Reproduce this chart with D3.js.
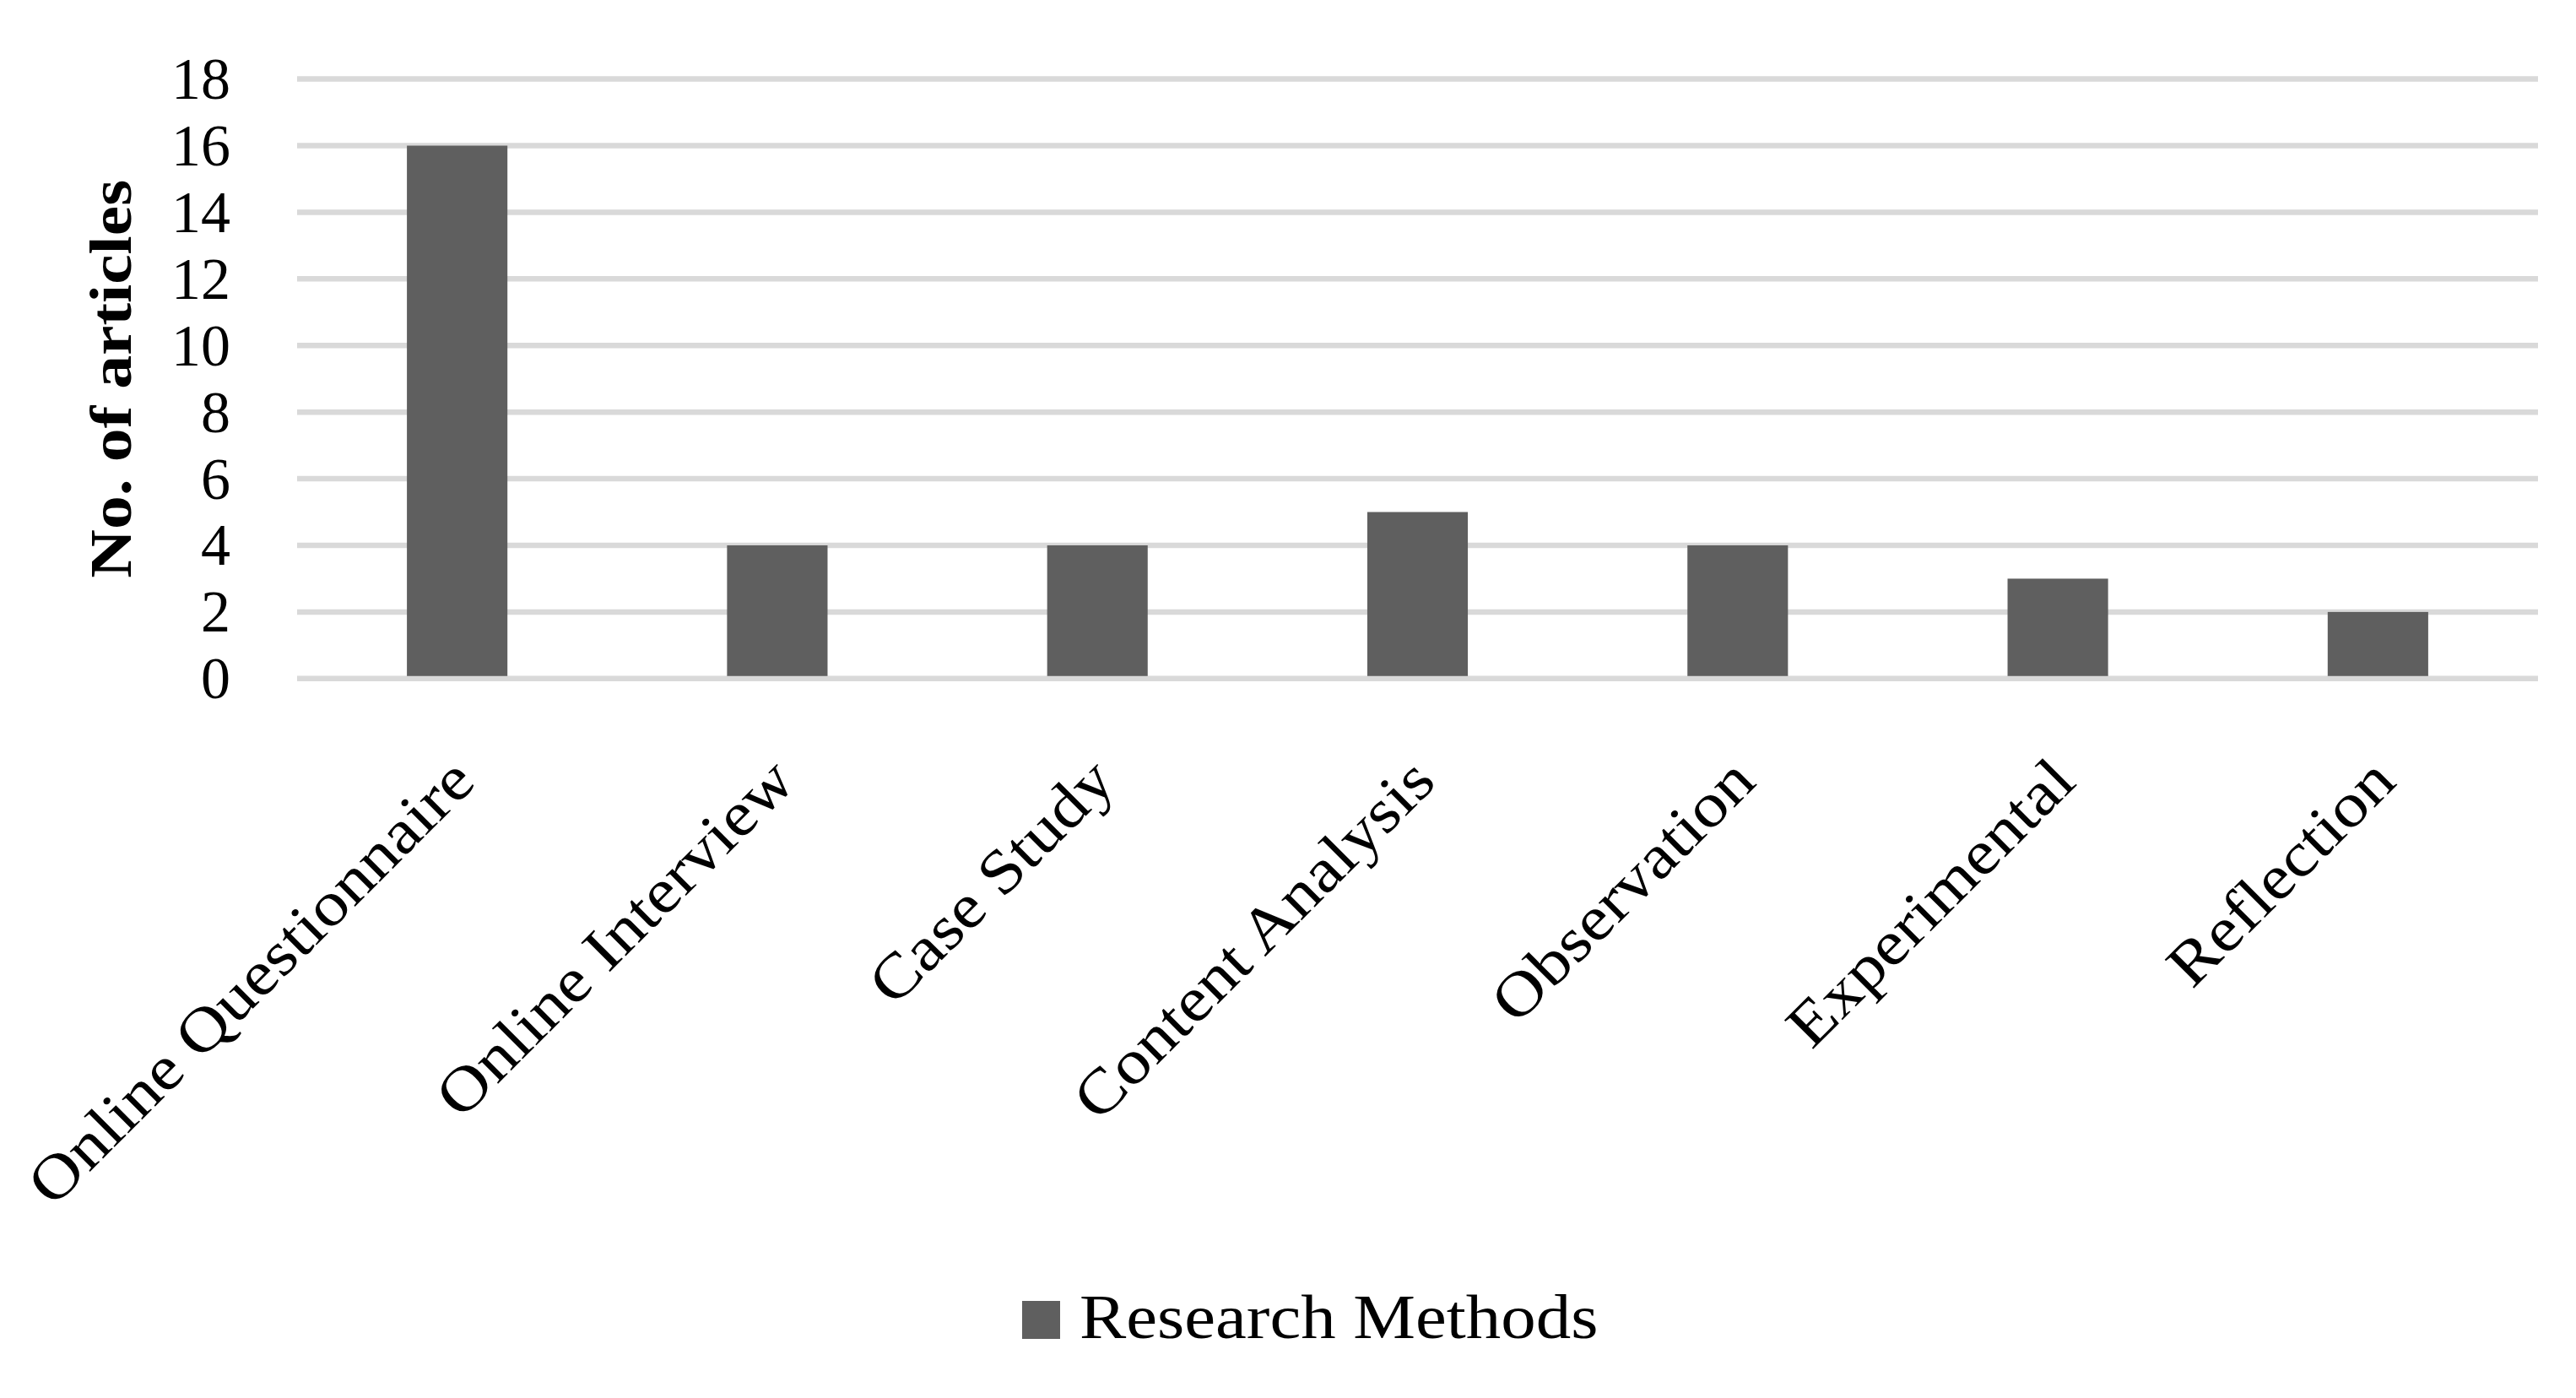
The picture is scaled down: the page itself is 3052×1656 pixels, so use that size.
<!DOCTYPE html>
<html>
<head>
<meta charset="utf-8">
<script src="https://cdn.jsdelivr.net/npm/d3@7"></script>
<style>
  html, body { margin: 0; padding: 0; background: #ffffff; }
  svg { display: block; }
  text { font-family: "Liberation Serif", "Times New Roman", serif; fill: #000; }
</style>
</head>
<body>
<script>
// ---- data ----
const categories = ["Online Questionnaire", "Online Interview", "Case Study", "Content Analysis", "Observation", "Experimental", "Reflection"];
const values = [16, 4, 4, 5, 4, 3, 2];
const yTicks = [0, 2, 4, 6, 8, 10, 12, 14, 16, 18];
const seriesName = "Research Methods";
const yTitle = "No. of articles";

// ---- layout ----
const W = 3052, H = 1656;
const plot = { left: 352, right: 3007, top: 93.6, bottom: 803.8 };
const barColor = "#5f5f5f", gridColor = "#d9d9d9";
const labelSize = 74, textScale = 1.12;

const svg = d3.select("body").append("svg").attr("width", W).attr("height", H);
svg.append("rect").attr("width", W).attr("height", H).attr("fill", "#fff");

const x = d3.scaleBand().domain(categories).range([plot.left, plot.right])
  .paddingInner(0.686).paddingOuter(0.343);
const y = d3.scaleLinear().domain([0, 18]).range([plot.bottom, plot.top]);

// gridlines
svg.append("g").selectAll("line").data(yTicks).join("line")
  .attr("x1", plot.left).attr("x2", plot.right)
  .attr("y1", d => y(d)).attr("y2", d => y(d))
  .attr("stroke", gridColor).attr("stroke-width", 6.5);

// y tick labels via axis
const yAxis = d3.axisLeft(y).tickValues(yTicks).tickSize(0).tickPadding(0);
const gy = svg.append("g").attr("transform", `translate(${273},0)`).call(yAxis);
gy.select(".domain").remove();
gy.selectAll("text")
  .attr("font-family", "Liberation Serif")
  .attr("font-size", 70)
  .attr("fill", "#000")
  .attr("text-anchor", "end")
  .attr("x", 0)
  .attr("dy", null)
  .attr("y", 23);

// bars
svg.append("g").selectAll("rect").data(values).join("rect")
  .attr("x", (d, i) => x(categories[i]))
  .attr("width", x.bandwidth())
  .attr("y", d => y(d))
  .attr("height", d => y(0) - 3 - y(d))
  .attr("fill", barColor);

// category labels (rotated)
svg.append("g").selectAll("text").data(categories).join("text")
  .attr("transform", d => `translate(${x(d) + x.bandwidth() / 2 + 24},${plot.bottom + 125}) rotate(-45) scale(${textScale},1)`)
  .attr("text-anchor", "end")
  .attr("font-size", labelSize)
  .text(d => d);

// y title
svg.append("text")
  .attr("transform", `translate(${155},${(plot.top + plot.bottom) / 2}) rotate(-90) scale(${1.14},1)`)
  .attr("text-anchor", "middle")
  .attr("font-size", 70)
  .attr("font-weight", "bold")
  .text(yTitle);

// legend
const lg = svg.append("g");
lg.append("rect").attr("x", 1211).attr("y", 1541).attr("width", 45).attr("height", 45).attr("fill", barColor);
lg.append("text")
  .attr("transform", `translate(${1279},${1585}) scale(${textScale},1)`)
  .attr("font-size", labelSize)
  .text(seriesName);
</script>
</body>
</html>
